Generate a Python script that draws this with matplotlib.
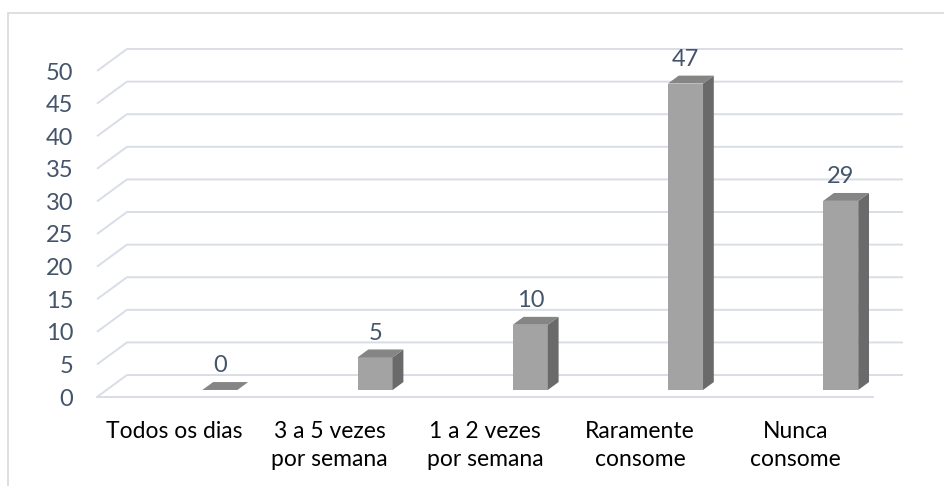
import matplotlib.pyplot as plt
from matplotlib.patches import Rectangle

categorias = ['Todos os dias', '3 a 5 vezes\npor semana', '1 a 2 vezes\npor semana',
              'Raramente\nconsome', 'Nunca\nconsome']
valores = [0, 5, 10, 47, 29]
yticks = list(range(0, 55, 5))

# 3D look (data units): full depth shift of the floor/wall
DX, DY = 0.193, 3.37
F0, F1 = 0.32, 0.68          # bar front / back depth fraction
BAR_W = 0.226                # front face width
BAR_SHIFT = 0.23             # extra horizontal shift of bars vs labels

GRID = '#d9dde6'
TICK_COL = '#44546a'
FONT = 'Lato'

plt.rcParams['font.family'] = [FONT, 'DejaVu Sans']

fig = plt.figure(figsize=(9.45, 4.86), dpi=100)
W, H = 945, 486
ax = fig.add_axes([97 / W, (H - 397) / H, (873 - 97) / W, (397 - 71) / H])
ax.set_xlim(-0.5, 4.5)
ax.set_ylim(0, 50)
for s in ax.spines.values():
    s.set_visible(False)

# chart border
fig.patches.append(Rectangle((8 / W, -0.05), 1.0, 1 - 13 / H + 0.05, transform=fig.transFigure,
                             fill=False, edgecolor='#d9d9d9', lw=1.2, zorder=0))

# gridlines: left diagonal + back wall
x0, x1 = -0.5, 4.5
for v in yticks:
    ax.plot([x0, x0 + DX, x1 + DX], [v, v + DY, v + DY], color=GRID, lw=1.4,
            clip_on=False, zorder=1, solid_capstyle='butt')
ax.plot([x0, x1], [0, 0], color=GRID, lw=1.4, clip_on=False, zorder=1)

# 3D bars
for i, v in enumerate(valores):
    xl = i + BAR_SHIFT + F0 * DX - BAR_W / 2
    xr = xl + BAR_W
    yb = F0 * DY
    dx, dy = (F1 - F0) * DX, (F1 - F0) * DY
    if v > 0:
        ax.fill([xl, xr, xr, xl], [yb, yb, yb + v, yb + v], color='#a3a3a3',
                clip_on=False, zorder=3, lw=0)
        ax.fill([xr, xr + dx, xr + dx, xr], [yb, yb + dy, yb + dy + v, yb + v],
                color='#6a6a6a', clip_on=False, zorder=3, lw=0)
    ax.fill([xl, xr, xr + dx, xl + dx], [yb + v, yb + v, yb + v + dy, yb + v + dy],
            color='#858585', clip_on=False, zorder=4, lw=0)
    ax.text((xl + xr) / 2, yb + v + dy + 2.5, str(v), ha='center', va='center',
            fontsize=17, color=TICK_COL, zorder=5)

ax.set_yticks(yticks)
ax.set_yticklabels([str(t) for t in yticks], fontsize=17, color=TICK_COL)
ax.set_xticks(range(len(categorias)))
ax.set_xticklabels(categorias, fontsize=16.5, color='black', linespacing=1.45)
ax.tick_params(axis='y', length=0, pad=17)
ax.tick_params(axis='x', length=0, pad=17)

fig.savefig('out.png', dpi=100)
